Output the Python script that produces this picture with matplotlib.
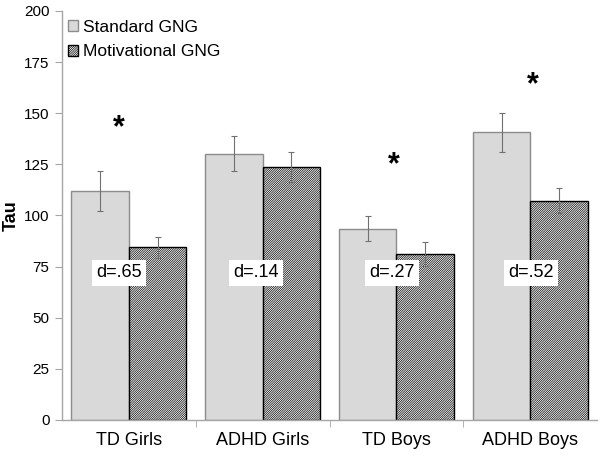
import matplotlib
matplotlib.use('Agg')
import matplotlib.pyplot as plt
import numpy as np

plt.rcParams['font.family'] = ['Liberation Sans', 'DejaVu Sans']
plt.rcParams['hatch.linewidth'] = 0.5

# ---- data
groups = ['TD Girls', 'ADHD Girls', 'TD Boys', 'ADHD Boys']
standard = [112, 130.3, 93.5, 140.6]
standard_err = [9.8, 8.7, 6.0, 9.6]
motivational = [84.4, 123.8, 81.2, 107.3]
motivational_err = [5.3, 7.4, 5.7, 5.9]
effect_labels = ['d=.65', 'd=.14', 'd=.27', 'd=.52']
significant = [True, False, True, True]

GRAY = '#d9d9d9'
EDGE = '#8c8c8c'
AXIS = '#a6a6a6'

fig = plt.figure(figsize=(6.02, 4.57), dpi=100)
ax = fig.add_axes([0.103, 0.081, 0.889, 0.895])

x = np.arange(len(groups))
w = 0.43
ax.bar(x - w / 2, standard, w, color=GRAY, edgecolor=EDGE, linewidth=1.0,
       label='Standard GNG', zorder=2)
ax.bar(x + w / 2, motivational, w, color='white', edgecolor='black',
       hatch='/' * 15, linewidth=1.0, label='Motivational GNG', zorder=2)
ax.errorbar(x - w / 2, standard, yerr=standard_err, fmt='none',
            ecolor='#707070', elinewidth=0.8, capsize=2, capthick=0.8, zorder=3)
ax.errorbar(x + w / 2, motivational, yerr=motivational_err, fmt='none',
            ecolor='#707070', elinewidth=0.8, capsize=2, capthick=0.8, zorder=3)

# effect size boxes and significance stars
label_dx = [-0.074, -0.05, -0.033, 0.006]
for i, lab in enumerate(effect_labels):
    ax.text(x[i] + label_dx[i], 72, lab, ha='center', va='center', fontsize=13,
            zorder=4, bbox=dict(boxstyle='square,pad=0.25', facecolor='white',
                                edgecolor='none'))
star_pos = [(-0.074, 142.5), None, (-0.02, 124.5), (0.02, 163.5)]
for i, sig in enumerate(significant):
    if sig:
        dx, yy = star_pos[i]
        ax.text(x[i] + dx, yy, '*', ha='center', va='center', fontsize=22,
                fontweight='bold', zorder=4)

ax.set_xlim(-0.5, 3.5)
ax.set_ylim(0, 200)
ax.set_yticks(np.arange(0, 201, 25))
ax.set_xticks(x)
ax.set_xticklabels(groups, fontsize=13)
ax.set_xticks(np.arange(0.5, 3.0, 1), minor=True)
ax.tick_params(axis='x', which='major', length=0, pad=9)
ax.tick_params(axis='x', which='minor', length=5, color=AXIS)
ax.tick_params(axis='y', labelsize=11, length=5, color=AXIS, pad=4)
ax.set_ylabel('Tau', fontsize=13, fontweight='bold', labelpad=3)

for s in ['top', 'right']:
    ax.spines[s].set_visible(False)
for s in ['left', 'bottom']:
    ax.spines[s].set_color(AXIS)
    ax.spines[s].set_linewidth(1.0)

ax.legend(loc='upper left', bbox_to_anchor=(-0.005, 1.0), frameon=False,
          fontsize=12.5, handlelength=0.6, handleheight=0.6, handletextpad=0.25,
          labelspacing=0.55, borderaxespad=0.1)

fig.savefig('out.png', dpi=100, facecolor='white')
